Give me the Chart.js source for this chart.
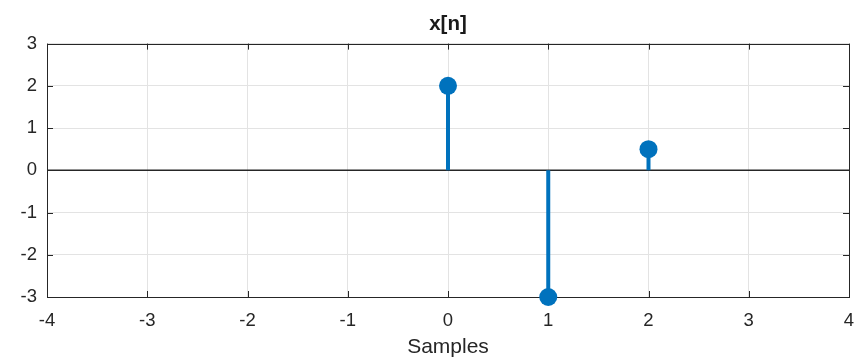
<!DOCTYPE html>
<html>
<head>
<meta charset="utf-8">
<script src="https://cdn.jsdelivr.net/npm/chart.js@4/dist/chart.umd.min.js"></script>
<style>
  html, body { margin: 0; padding: 0; background: #fff; }
  #wrap { width: 858px; height: 358px; }
</style>
</head>
<body>
<div id="wrap"><canvas id="stem-chart"></canvas></div>
<script>
/**
 * Data
 */
const samples = [0, 1, 2];
const values = [2, -3, 0.5];
const xTicks = [-4, -3, -2, -1, 0, 1, 2, 3, 4];
const yTicks = [-3, -2, -1, 0, 1, 2, 3];

const axisColor = '#262626';
const stemColor = '#0072BD';

// stems as segments from 0 to the value, broken by null gaps
const stemData = [];
samples.forEach((n, i) => {
  stemData.push({ x: n, y: 0 }, { x: n, y: values[i] }, { x: n, y: null });
});
const markerData = samples.map((n, i) => ({ x: n, y: values[i] }));
const baseData = [{ x: xTicks[0], y: 0 }, { x: xTicks[xTicks.length - 1], y: 0 }];

/**
 * Plugins
 */
const boxPlugin = {
  id: 'box',
  beforeDatasetsDraw(chart) {
    const { ctx, chartArea: a, scales } = chart;
    ctx.save();
    ctx.strokeStyle = axisColor;
    ctx.lineWidth = 1;
    ctx.beginPath();
    xTicks.forEach(v => {
      const px = Math.round(scales.x.getPixelForValue(v)) + 0.5;
      ctx.moveTo(px, a.bottom); ctx.lineTo(px, a.bottom - 6);
      ctx.moveTo(px, a.top); ctx.lineTo(px, a.top + 6);
    });
    yTicks.forEach(v => {
      const py = Math.round(scales.y.getPixelForValue(v)) + 0.5;
      ctx.moveTo(a.left, py); ctx.lineTo(a.left + 6, py);
      ctx.moveTo(a.right, py); ctx.lineTo(a.right - 6, py);
    });
    ctx.stroke();
    ctx.strokeRect(Math.round(a.left) + 0.5, Math.round(a.top) + 0.5,
      Math.round(a.right - a.left), Math.round(a.bottom - a.top));
    ctx.restore();
  }
};

/**
 * Chart
 */
const createGraphic = () => {
  const ctx = document.getElementById('stem-chart').getContext('2d');

  new Chart(ctx, {
    type: 'scatter',
    data: {
      datasets: [
        {
          label: 'base',
          data: baseData,
          showLine: true,
          borderColor: axisColor,
          borderWidth: 1.5,
          pointRadius: 0,
          order: 3
        },
        {
          label: 'stems',
          data: stemData,
          showLine: true,
          spanGaps: false,
          borderColor: stemColor,
          borderWidth: 4,
          borderCapStyle: 'butt',
          pointRadius: 0,
          order: 2
        },
        {
          label: 'x[n]',
          data: markerData,
          clip: false,
          pointRadius: 9,
          pointBackgroundColor: stemColor,
          pointBorderColor: stemColor,
          pointBorderWidth: 0,
          order: 1
        }
      ]
    },
    options: {
      responsive: true,
      maintainAspectRatio: false,
      animation: false,
      layout: { padding: { left: 0, right: 8, top: 0, bottom: 0 } },
      plugins: {
        legend: { display: false },
        tooltip: { enabled: false },
        title: {
          display: true,
          fullSize: false,
          text: 'x[n]',
          color: '#1a1a1a',
          font: { family: 'Liberation Sans', size: 20.5, weight: 'bold' },
          padding: { top: 12, bottom: 7 }
        }
      },
      scales: {
        x: {
          type: 'linear',
          min: -4,
          max: 4,
          afterBuildTicks: s => { s.ticks = xTicks.map(v => ({ value: v })); },
          afterFit: s => { s.height = 61; s.paddingLeft = 0; s.paddingRight = 0; },
          grid: { color: '#e3e3e3', drawTicks: false },
          border: { display: false },
          ticks: {
            color: axisColor,
            padding: 13,
            maxRotation: 0,
            font: { family: 'Liberation Sans', size: 18.5 }
          },
          title: {
            display: true,
            text: 'Samples',
            color: axisColor,
            font: { family: 'Liberation Sans', size: 21 },
            padding: { top: 0, bottom: -2 }
          }
        },
        y: {
          type: 'linear',
          min: -3,
          max: 3,
          afterBuildTicks: s => { s.ticks = yTicks.map(v => ({ value: v })); },
          afterFit: s => { s.width = 47; s.paddingTop = 0; s.paddingBottom = 0; },
          grid: { color: '#e3e3e3', drawTicks: false },
          border: { display: false },
          ticks: {
            color: axisColor,
            padding: 10,
            font: { family: 'Liberation Sans', size: 18.5 }
          }
        }
      }
    },
    plugins: [boxPlugin]
  });
};

/**
 * Events
 */
document.addEventListener('DOMContentLoaded', () => {
  createGraphic();
});
</script>
</body>
</html>
